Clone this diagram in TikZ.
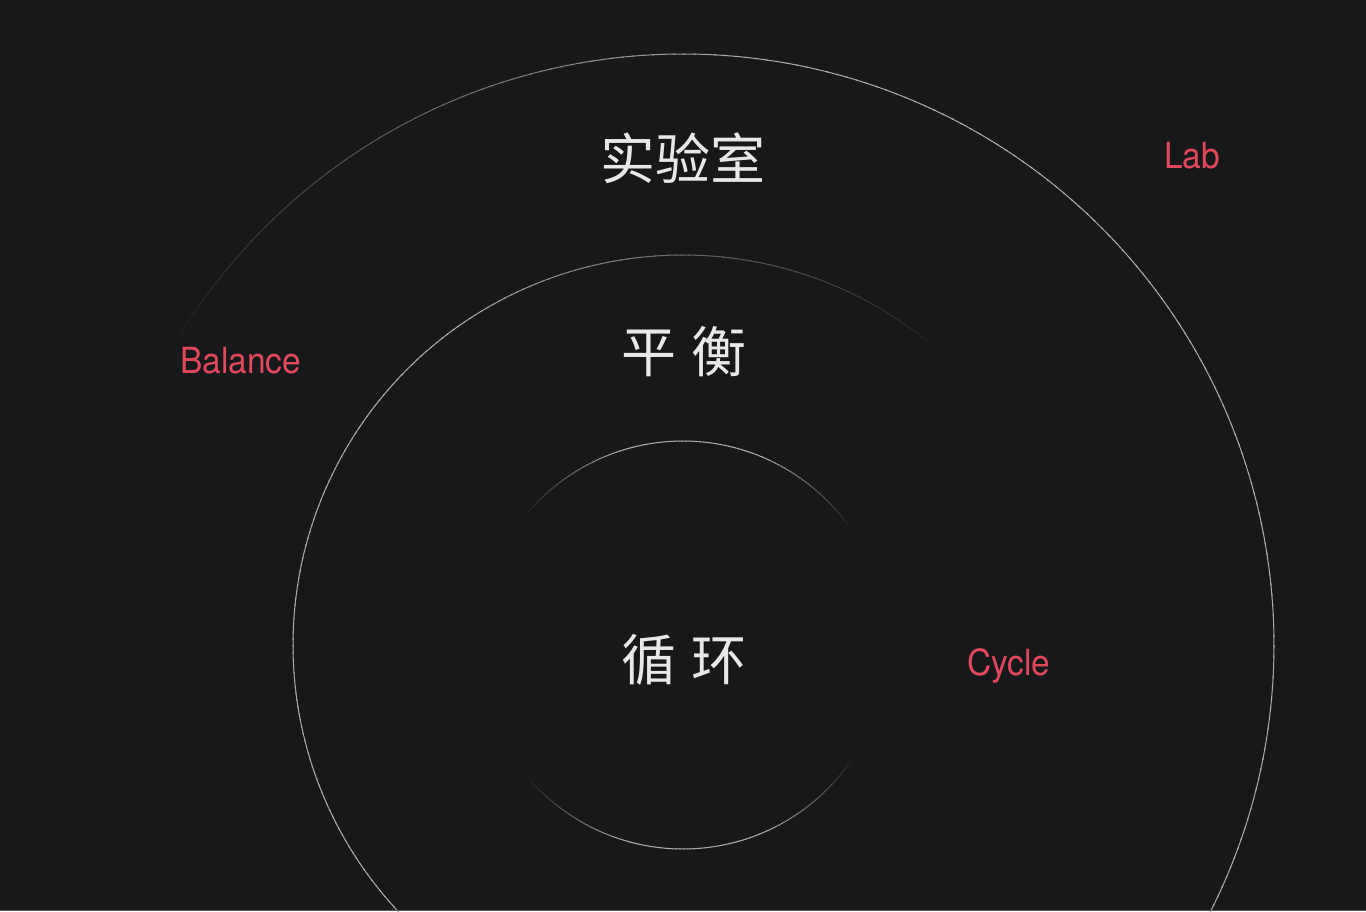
\documentclass[tikz,border=0pt]{standalone}
\usepackage{fontspec}
\newfontfamily\cjk{Noto Sans CJK SC}
\newfontfamily\lbl[FakeStretch=0.93]{TeX Gyre Heros}
\definecolor{bg}{HTML}{17181A}
\definecolor{lc}{HTML}{ABABAB}
\definecolor{txt}{HTML}{E8E8E6}
\definecolor{accent}{HTML}{E2485C}
\definecolor{edgeline}{HTML}{5A5A5A}
\tikzset{
  cjktext/.style={text=txt, font=\cjk\fontsize{55}{60}\selectfont, inner sep=0pt},
  redlabel/.style={text=accent, font=\lbl\fontsize{36}{40}\selectfont, inner sep=0pt},
  ring/.style={line width=1pt, line cap=butt}
}
\begin{document}
\begin{tikzpicture}[x=1pt, y=1pt]
\useasboundingbox (0,0) rectangle (1366,-911);
\fill[bg] (0,0) rectangle (1366,-911);
\coordinate (ctr) at (683,-645);
% outer ring: fades out towards the upper left
\foreach \a in {152,151,...,-40} {
  \pgfmathtruncatemacro\p{100*max(0,min(1,(152-\a)/67))}
  \draw[ring, color=lc!\p!bg] ([shift={(ctr)}]\a:591pt) arc[start angle=\a, end angle=\a-1.25, radius=591pt];
}
% middle ring: fades out towards the upper right
\foreach \a in {45,46,...,300} {
  \pgfmathtruncatemacro\p{100*max(0,min(1,(\a-45)/80))}
  \draw[ring, color=lc!\p!bg] ([shift={(ctr)}]\a:390pt) arc[start angle=\a, end angle=\a+1.25, radius=390pt];
}
% inner ring: upper and lower arcs, fading at both ends
\foreach \a in {33,34,...,141} {
  \pgfmathtruncatemacro\p{100*max(0,min(1,min((\a-33)/35,(141-\a)/35)))}
  \draw[ring, color=lc!\p!bg] ([shift={(ctr)}]\a:204pt) arc[start angle=\a, end angle=\a+1.25, radius=204pt];
}
\foreach \a in {219,220,...,327} {
  \pgfmathtruncatemacro\p{100*max(0,min(1,min((\a-219)/35,(327-\a)/35)))}
  \draw[ring, color=lc!\p!bg] ([shift={(ctr)}]\a:204pt) arc[start angle=\a, end angle=\a+1.25, radius=204pt];
}
% bottom edge line
\draw[edgeline, line width=1pt] (0,-910.5) -- (1366,-910.5);
% texts
\node[cjktext] (lab) at (683,-158) {实验室};
\node[cjktext] (bal) at (684,-352) {平\hspace{16pt}衡};
\node[cjktext] (cyc) at (684,-660) {循\hspace{16pt}环};
\node[redlabel, anchor=base] (labEn) at (1192,-168) {Lab};
\node[redlabel, anchor=base west] (balEn) at (180,-373) {Balance};
\node[redlabel, anchor=base west] (cycEn) at (967,-675) {Cycle};
\end{tikzpicture}
\end{document}
